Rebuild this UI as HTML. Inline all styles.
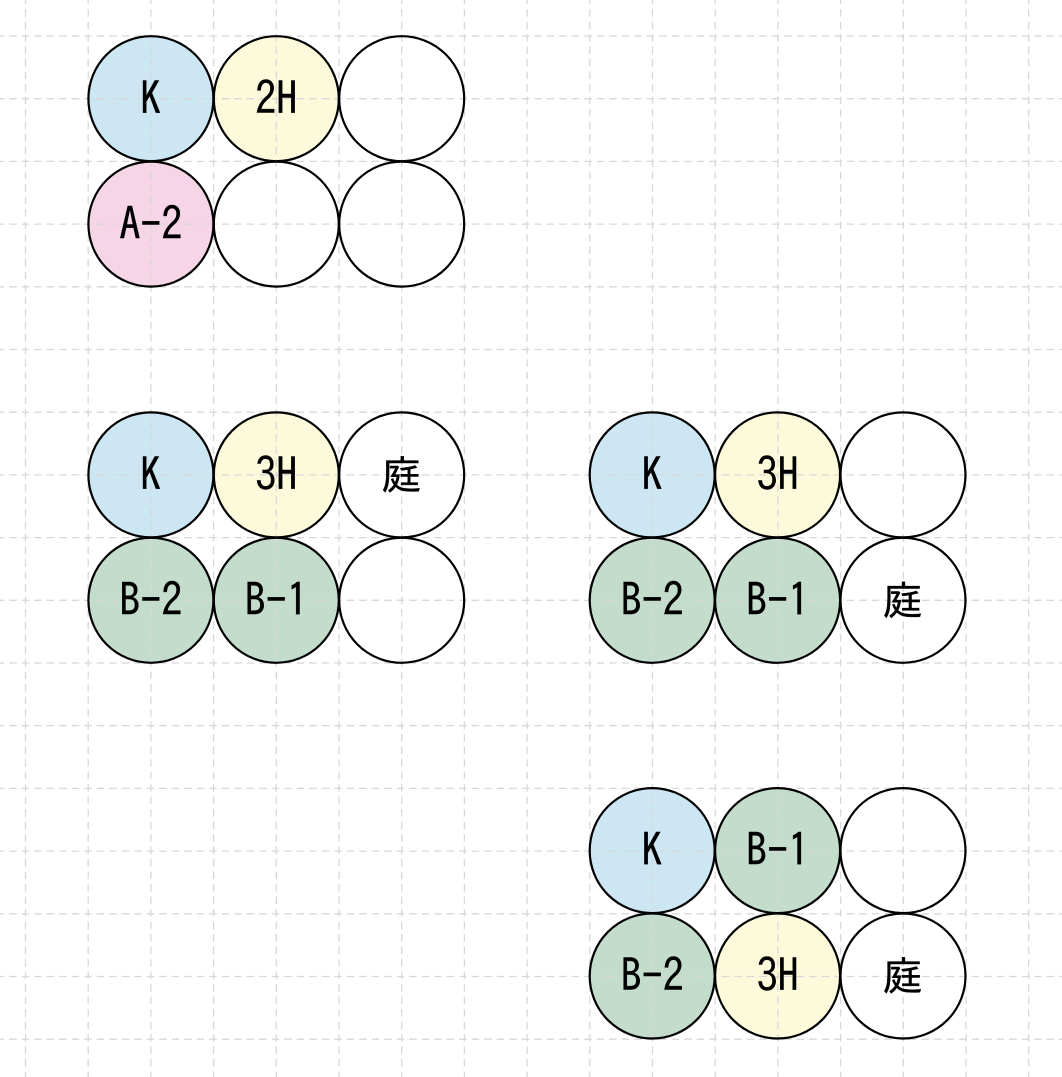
<!DOCTYPE html>
<html><head><meta charset="utf-8">
<style>
html,body{margin:0;padding:0;background:#fff;width:1062px;height:1077px;overflow:hidden}
svg{display:block}
text{font-family:"IPAGothic","Liberation Sans","Noto Sans CJK JP",sans-serif;font-size:40px;fill:#000;stroke:#000;stroke-width:.35;text-anchor:middle}
.g{stroke:#d8d8d8;stroke-width:1.3;stroke-dasharray:7.5 5;fill:none}
.c{stroke:#000;stroke-width:2.2;fill:none}
</style></head><body>
<svg width="1062" height="1077" viewBox="0 0 1062 1077" xmlns="http://www.w3.org/2000/svg">
<!-- fills -->
<g>
<circle cx="150.9" cy="98.7" r="62.5" fill="#cce7f3"/>
<circle cx="276.3" cy="98.7" r="62.5" fill="#fdfadc"/>
<circle cx="150.9" cy="224.1" r="62.5" fill="#f5d5e6"/>
<circle cx="150.9" cy="474.9" r="62.5" fill="#cce7f3"/>
<circle cx="276.3" cy="474.9" r="62.5" fill="#fdfadc"/>
<circle cx="150.9" cy="600.3" r="62.5" fill="#c3dccc"/>
<circle cx="276.3" cy="600.3" r="62.5" fill="#c3dccc"/>
<circle cx="652.2" cy="474.9" r="62.5" fill="#cce7f3"/>
<circle cx="777.6" cy="474.9" r="62.5" fill="#fdfadc"/>
<circle cx="652.2" cy="600.3" r="62.5" fill="#c3dccc"/>
<circle cx="777.6" cy="600.3" r="62.5" fill="#c3dccc"/>
<circle cx="652.2" cy="850.6" r="62.5" fill="#cce7f3"/>
<circle cx="777.6" cy="850.6" r="62.5" fill="#c3dccc"/>
<circle cx="652.2" cy="976" r="62.5" fill="#c3dccc"/>
<circle cx="777.6" cy="976" r="62.5" fill="#fdfadc"/>
</g>
<!-- grid -->
<g class="g">
<path d="M25.5 -3.4V1077M88.2 -3.4V1077M150.9 -3.4V1077M213.6 -3.4V1077M276.3 -3.4V1077M339 -3.4V1077M401.7 -3.4V1077M464.4 -3.4V1077M527.1 -3.4V1077M589.8 -3.4V1077M652.5 -3.4V1077M715.2 -3.4V1077M777.9 -3.4V1077M840.6 -3.4V1077M903.3 -3.4V1077M966 -3.4V1077M1028.7 -3.4V1077"/>
<path d="M-3.3 36H1062M-3.3 98.7H1062M-3.3 161.4H1062M-3.3 224.1H1062M-3.3 286.8H1062M-3.3 349.5H1062M-3.3 412.2H1062M-3.3 474.9H1062M-3.3 537.6H1062M-3.3 600.3H1062M-3.3 663H1062M-3.3 725.7H1062M-3.3 788.4H1062M-3.3 851.1H1062M-3.3 913.8H1062M-3.3 976.5H1062M-3.3 1039.2H1062"/>
</g>
<!-- outlines -->
<g class="c">
<circle cx="150.9" cy="98.7" r="62.5"/><circle cx="276.3" cy="98.7" r="62.5"/><circle cx="401.7" cy="98.7" r="62.5"/>
<circle cx="150.9" cy="224.1" r="62.5"/><circle cx="276.3" cy="224.1" r="62.5"/><circle cx="401.7" cy="224.1" r="62.5"/>
<circle cx="150.9" cy="474.9" r="62.5"/><circle cx="276.3" cy="474.9" r="62.5"/><circle cx="401.7" cy="474.9" r="62.5"/>
<circle cx="150.9" cy="600.3" r="62.5"/><circle cx="276.3" cy="600.3" r="62.5"/><circle cx="401.7" cy="600.3" r="62.5"/>
<circle cx="652.2" cy="474.9" r="62.5"/><circle cx="777.6" cy="474.9" r="62.5"/><circle cx="903" cy="474.9" r="62.5"/>
<circle cx="652.2" cy="600.3" r="62.5"/><circle cx="777.6" cy="600.3" r="62.5"/><circle cx="903" cy="600.3" r="62.5"/>
<circle cx="652.2" cy="850.6" r="62.5"/><circle cx="777.6" cy="850.6" r="62.5"/><circle cx="903" cy="850.6" r="62.5"/>
<circle cx="652.2" cy="976" r="62.5"/><circle cx="777.6" cy="976" r="62.5"/><circle cx="903" cy="976" r="62.5"/>
</g>
<!-- labels -->
<g>
<text transform="translate(150.9 115) scale(1.05 1.14)">K</text>
<text transform="translate(276.3 115) scale(1.05 1.14)">2H</text>
<text transform="translate(150.9 240.5) scale(1.05 1.14)">A-2</text>
<text transform="translate(150.9 491) scale(1.05 1.14)">K</text>
<text transform="translate(276.3 491) scale(1.05 1.14)">3H</text>
<text x="401.7" y="489.5">庭</text>
<text transform="translate(150.9 616.5) scale(1.05 1.14)">B-2</text>
<text transform="translate(276.3 616.5) scale(1.05 1.14)">B-1</text>
<text transform="translate(652.2 491) scale(1.05 1.14)">K</text>
<text transform="translate(777.6 491) scale(1.05 1.14)">3H</text>
<text transform="translate(652.2 616.5) scale(1.05 1.14)">B-2</text>
<text transform="translate(777.6 616.5) scale(1.05 1.14)">B-1</text>
<text x="903" y="615">庭</text>
<text transform="translate(652.2 866.5) scale(1.05 1.14)">K</text>
<text transform="translate(777.6 866.5) scale(1.05 1.14)">B-1</text>
<text transform="translate(652.2 992) scale(1.05 1.14)">B-2</text>
<text transform="translate(777.6 992) scale(1.05 1.14)">3H</text>
<text x="903" y="990.5">庭</text>
</g>
</svg>
</body></html>
